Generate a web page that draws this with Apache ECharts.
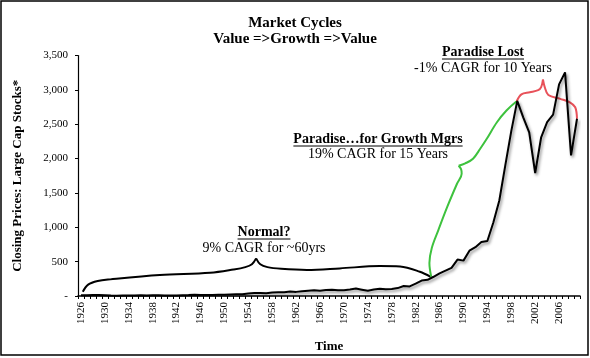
<!DOCTYPE html>
<html><head><meta charset="utf-8">
<script src="https://cdn.jsdelivr.net/npm/echarts@6/dist/echarts.min.js"></script>
<style>html,body{margin:0;padding:0;background:#fff}#c{width:590px;height:358px}</style>
</head><body><div id="c"></div>
<script>
// Categories (years)
var startYear = 1926, endYear = 2009;
var years = [];
for (var y = startYear; y <= endYear; y++) years.push(String(y));

// Closing prices, large cap stocks
var prices = [
  10, 12, 16, 14, 10, 6, 5, 7, 7, 9,            // 1926-1935
  12, 8, 10, 10, 9, 8, 9, 11, 13, 17,           // 1936-1945
  15, 15, 15, 17,                               // 1946-1949
  18, 22, 26, 26, 36, 42, 44, 40, 50, 55,       // 1950-1959
  55, 65, 60, 70, 78, 84, 76, 88, 92, 84,       // 1960-1969
  85, 95, 108, 92, 75, 95, 105, 98, 102, 115,   // 1970-1979
  145, 140, 180, 225, 235, 280, 330, 370, 410, 530, // 1980-1989
  515, 660, 710, 785, 800, 1070, 1390, 1900, 2400, 2840, // 1990-1999
  2600, 2380, 1790, 2310, 2530, 2640, 3080, 3255, 2046, 2580 // 2000-2009
];

// Y-axis ticks
var yTicks = [0, 500, 1000, 1500, 2000, 2500, 3000, 3500];

// Annotation braces, each as two halves meeting at the tip: [year, value]
var normalLeft = [
  [1926.3, 62], [1927.2, 165], [1928.8, 218], [1930.9, 242], [1939.2, 305],
  [1947.6, 338], [1951.5, 385], [1953.5, 420], [1954.6, 462], [1955.3, 548]
];
var normalRight = [
  [1955.3, 548], [1956.0, 462], [1957.2, 420], [1959.5, 396], [1963.8, 380],
  [1969.3, 402], [1976.0, 435], [1979.4, 428], [1982.7, 353], [1984.5, 280]
];
var growthLower = [
  [1984.6, 280], [1984.3, 480], [1984.7, 700], [1985.8, 960], [1987.3, 1300],
  [1988.9, 1630], [1989.7, 1780], [1989.6, 1845], [1989.2, 1895]
];
var growthUpper = [
  [1989.2, 1895], [1990.3, 1930], [1991.6, 1998], [1992.8, 2143], [1993.9, 2288],
  [1995.6, 2529], [1997.2, 2699], [1998.9, 2834]
];
var lostLeft = [
  [1998.9, 2834], [1999.7, 2935], [2001.1, 2964], [2002.5, 2995], [2003.0, 3040], [2003.3, 3150]
];
var lostRight = [
  [2003.3, 3150], [2003.6, 3040], [2004.2, 2925], [2006.2, 2869], [2007.8, 2819],
  [2008.7, 2747], [2009.0, 2578]
];

var SERIF = '"Liberation Serif","Times New Roman",serif';

function measure(txt, font) {
  var cv = document.createElement('canvas').getContext('2d');
  cv.font = font;
  return cv.measureText(txt).width;
}

var annotations = [
  {text: 'Normal?', bold: true, x: 264, y: 232, ul: 239},
  {text: '9% CAGR for ~60yrs', bold: false, x: 264, y: 248.5},
  {text: 'Paradise\u2026for Growth Mgrs', bold: true, x: 378, y: 139, ul: 146},
  {text: '19% CAGR for 15 Years', bold: false, x: 378, y: 154.5},
  {text: 'Paradise Lost', bold: true, x: 483, y: 52.5, ul: 59},
  {text: '-1% CAGR for 10 Years', bold: false, x: 483, y: 68}
];

var graphics = [
  {type: 'rect', shape: {x: 1, y: 1, width: 587, height: 354},
   style: {fill: 'none', stroke: '#000', lineWidth: 1.5}, silent: true},
  {type: 'text', x: 295, y: 23.5, style: {text: 'Market Cycles', font: 'bold 15px ' + SERIF, fill: '#000', textAlign: 'center', textVerticalAlign: 'middle'}},
  {type: 'text', x: 295, y: 39, style: {text: 'Value =>Growth =>Value', font: 'bold 15px ' + SERIF, fill: '#000', textAlign: 'center', textVerticalAlign: 'middle'}}
];
annotations.forEach(function (a) {
  var font = (a.bold ? 'bold ' : '') + '14px ' + SERIF;
  graphics.push({type: 'text', x: a.x, y: a.y, style: {text: a.text, font: font, fill: '#000', textAlign: 'center', textVerticalAlign: 'middle'}});
  if (a.ul) {
    var w = measure(a.text, font);
    graphics.push({type: 'line', shape: {x1: a.x - w / 2, y1: a.ul, x2: a.x + w / 2, y2: a.ul}, style: {stroke: '#000', lineWidth: 1}});
  }
});

function brace(data, color) {
  return {type: 'line', data: data, xAxisIndex: 1, showSymbol: false, smooth: 0.35,
    lineStyle: {color: color, width: 2}, z: 2};
}

var chart = echarts.init(document.getElementById('c'), null, {renderer: 'canvas'});
chart.setOption({
  animation: false,
  backgroundColor: '#fff',
  grid: {left: 78, right: 10, top: 55.5, bottom: 62, containLabel: false},
  xAxis: [{
    type: 'category', data: years, boundaryGap: true,
    name: 'Time', nameLocation: 'middle', nameGap: 44,
    nameTextStyle: {fontFamily: SERIF, fontWeight: 'bold', fontSize: 13, color: '#000'},
    axisLine: {lineStyle: {color: '#000', width: 1.5}},
    axisTick: {show: true, interval: 0, length: 3, lineStyle: {color: '#000'}},
    axisLabel: {interval: 3, rotate: 90, margin: 6, fontFamily: SERIF, fontSize: 11, color: '#000'},
    splitLine: {show: false}
  }, {
    type: 'value', min: startYear - 0.5, max: endYear + 0.5, show: false
  }],
  yAxis: [{
    type: 'value', min: yTicks[0], max: yTicks[yTicks.length - 1], interval: 500,
    name: 'Closing Prices: Large Cap Stocks*', nameLocation: 'middle', nameGap: 54, nameRotate: 90,
    nameTextStyle: {fontFamily: SERIF, fontWeight: 'bold', fontSize: 13, color: '#000'},
    axisLine: {show: true, lineStyle: {color: '#000', width: 1.2}},
    axisTick: {show: true, length: 3, lineStyle: {color: '#000'}},
    axisLabel: {margin: 10, fontFamily: SERIF, fontSize: 11, color: '#000',
      formatter: function (v) { return v === 0 ? '-' : v.toLocaleString('en-US'); }},
    splitLine: {show: false}
  }],
  series: [{
    type: 'line', name: 'Large Cap', data: prices, xAxisIndex: 0, showSymbol: false,
    lineStyle: {color: '#000', width: 2, shadowColor: 'rgba(0,0,0,0.45)', shadowBlur: 3, shadowOffsetX: 1.5, shadowOffsetY: 2},
    z: 3
  },
    brace(normalLeft, '#000'), brace(normalRight, '#000'),
    brace(growthLower, '#3ec23e'), brace(growthUpper, '#3ec23e'),
    brace(lostLeft, '#e8525a'), brace(lostRight, '#e8525a')
  ],
  graphic: graphics
});
</script></body></html>
